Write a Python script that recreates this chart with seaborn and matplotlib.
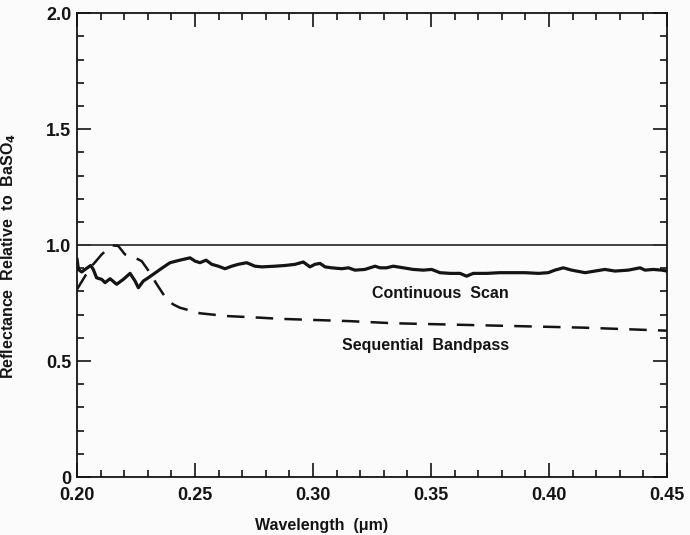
import numpy as np
import pandas as pd
import matplotlib
matplotlib.use("Agg")
import matplotlib.pyplot as plt
from matplotlib.ticker import MultipleLocator
import seaborn as sns

# Continuous scan (solid)
cont_wl = [0.2000, 0.2006, 0.2020, 0.2034, 0.2058, 0.2069, 0.2083, 0.2105, 0.2119, 0.2140,
           0.2168, 0.2196, 0.2225, 0.2246, 0.2260, 0.2281, 0.2302, 0.2323, 0.2352, 0.2394,
           0.2436, 0.2479, 0.2500, 0.2521, 0.2547, 0.2571, 0.2599, 0.2627, 0.2656, 0.2683,
           0.2719, 0.2754, 0.2783, 0.2839, 0.2881, 0.2924, 0.2959, 0.2987, 0.3008, 0.3030,
           0.3051, 0.3079, 0.3122, 0.3150, 0.3178, 0.3220, 0.3263, 0.3284, 0.3312, 0.3340,
           0.3383, 0.3425, 0.3467, 0.3503, 0.3538, 0.3581, 0.3623, 0.3651, 0.3679, 0.3736,
           0.3792, 0.3835, 0.3898, 0.3955, 0.3997, 0.4025, 0.4061, 0.4096, 0.4153, 0.4195,
           0.4237, 0.4280, 0.4336, 0.4386, 0.4407, 0.4442, 0.4478, 0.4500]
cont_val = [0.941, 0.895, 0.884, 0.895, 0.912, 0.895, 0.859, 0.852, 0.838, 0.855,
            0.831, 0.852, 0.878, 0.845, 0.816, 0.845, 0.859, 0.874, 0.895, 0.924,
            0.935, 0.945, 0.931, 0.924, 0.935, 0.917, 0.909, 0.898, 0.909, 0.917,
            0.924, 0.909, 0.906, 0.909, 0.912, 0.917, 0.927, 0.906, 0.917, 0.921,
            0.906, 0.902, 0.898, 0.902, 0.892, 0.895, 0.909, 0.902, 0.902, 0.909,
            0.902, 0.895, 0.892, 0.895, 0.881, 0.878, 0.878, 0.866, 0.878, 0.878,
            0.881, 0.881, 0.881, 0.878, 0.881, 0.892, 0.902, 0.892, 0.881, 0.888,
            0.895, 0.888, 0.892, 0.902, 0.892, 0.895, 0.892, 0.888]

# Sequential bandpass (dashed)
seq_wl = [0.2000, 0.2034, 0.2062, 0.2105, 0.2147, 0.2175, 0.2203, 0.2246, 0.2274, 0.2309,
          0.2338, 0.2380, 0.2408, 0.2436, 0.2521, 0.2634, 0.2775, 0.2860, 0.3157, 0.3340,
          0.3722, 0.4145, 0.4500]
seq_val = [0.809, 0.866, 0.909, 0.960, 0.999, 0.996, 0.960, 0.945, 0.931, 0.881,
           0.831, 0.766, 0.744, 0.730, 0.706, 0.694, 0.687, 0.682, 0.672, 0.663,
           0.654, 0.644, 0.631]

ref_wl = [0.20, 0.45]
ref_val = [1.0, 1.0]

x_ticks = [0.20, 0.25, 0.30, 0.35, 0.40, 0.45]
x_tick_labels = ["0.20", "0.25", "0.30", "0.35", "0.40", "0.45"]
y_ticks = [0.0, 0.5, 1.0, 1.5, 2.0]
y_tick_labels = ["0", "0.5", "1.0", "1.5", "2.0"]

sns.set_style("ticks")
plt.rcParams["font.family"] = ["Liberation Sans", "DejaVu Sans"]
plt.rcParams["font.weight"] = "bold"

ink = "#141414"
fig = plt.figure(figsize=(6.9, 5.35), dpi=100, facecolor="#fbfbfb")
ax = fig.add_axes([0.1116, 0.1084, 0.855, 0.867])
ax.set_facecolor("#fbfbfb")

df_c = pd.DataFrame({"wl": cont_wl, "val": cont_val})
df_s = pd.DataFrame({"wl": seq_wl, "val": seq_val})
df_r = pd.DataFrame({"wl": ref_wl, "val": ref_val})

sns.lineplot(data=df_r, x="wl", y="val", ax=ax, color="#333333", lw=1.3, sort=False)
sns.lineplot(data=df_c, x="wl", y="val", ax=ax, color=ink, lw=2.3, sort=False)
sns.lineplot(data=df_s, x="wl", y="val", ax=ax, color=ink, lw=1.8, sort=False)
ax.lines[-1].set_dashes([7, 4.5])

ax.set_xlim(0.20, 0.45)
ax.set_ylim(0.0, 2.0)
ax.set_xticks(x_ticks)
ax.set_xticklabels(x_tick_labels)
ax.set_yticks(y_ticks)
ax.set_yticklabels(y_tick_labels)
ax.xaxis.set_minor_locator(MultipleLocator(0.01))
ax.yaxis.set_minor_locator(MultipleLocator(0.1))

ax.tick_params(which="both", direction="in", top=True, right=True, color=ink, width=1.2)
ax.tick_params(which="major", length=10, labelsize=13, labelcolor=ink)
ax.tick_params(axis="x", which="major", pad=7)
ax.tick_params(axis="y", which="major", pad=4)
ax.tick_params(which="minor", length=5)
for s in ax.spines.values():
    s.set_color(ink)
    s.set_linewidth(1.3)

for lab in ax.get_xticklabels() + ax.get_yticklabels():
    lab.set_fontweight("bold")

ax.set_xlabel("Wavelength  (\u03bcm)", fontsize=11.5, fontweight="bold", color=ink)
ax.set_ylabel("Reflectance  Relative  to  BaSO$_\\mathbf{4}$", fontsize=11.5, fontweight="bold", color=ink)
ax.xaxis.set_label_coords(0.415, -0.088)
ax.yaxis.set_label_coords(-0.1, 0.476)

ax.text(0.3538, 0.793, "Continuous  Scan", ha="center", va="center", fontsize=11.5,
        fontweight="bold", color=ink)
ax.text(0.3475, 0.565, "Sequential  Bandpass", ha="center", va="center", fontsize=11.5,
        fontweight="bold", color=ink)

fig.savefig("out.png", dpi=100, facecolor=fig.get_facecolor())
